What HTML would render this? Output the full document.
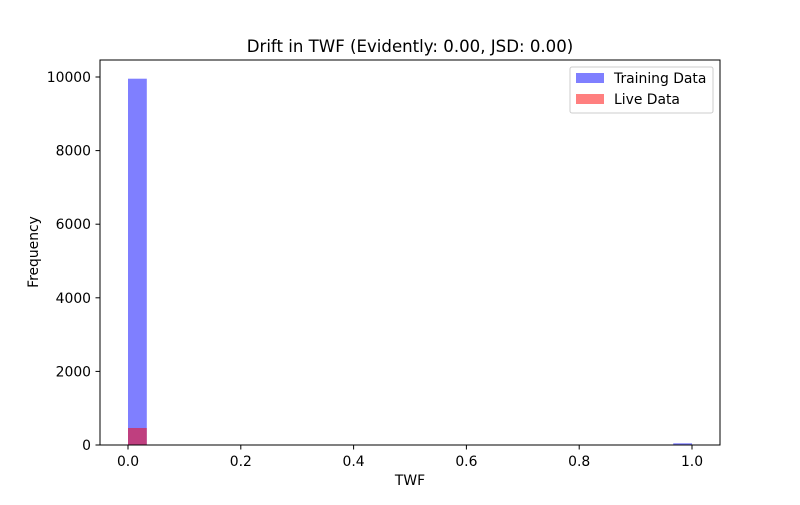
<!DOCTYPE html>
<html><head><meta charset="utf-8"><style>
body{margin:0;background:#fff;font-family:"Liberation Sans","DejaVu Sans",sans-serif}
</style></head><body>
<svg width="800" height="500" id="chart" style="font-family:'DejaVu Sans','Liberation Sans',sans-serif">
<rect width="800" height="500" fill="#fff"/>
<text x="410" y="52" font-size="16.6" text-anchor="middle">Drift in TWF (Evidently: 0.00, JSD: 0.00)</text>
<g id="bars"></g>
<rect x="100" y="60" width="620" height="385" fill="none" stroke="#000" stroke-width="1"/>
<g id="xt" font-size="13.9"></g><g id="yt" font-size="13.9"></g>
<text x="410" y="485" font-size="13.9" text-anchor="middle">TWF</text>
<text transform="translate(38,252) rotate(-90)" font-size="13.9" text-anchor="middle">Frequency</text>
<g>
<rect x="570" y="67" width="143" height="46" fill="#fff" stroke="#ccc" rx="2"/>
<rect x="576" y="73" width="28" height="10" fill="#0000ff" fill-opacity="0.5"/>
<text x="614" y="83" font-size="13.9">Training Data</text>
<rect x="576" y="94" width="28" height="10" fill="#ff0000" fill-opacity="0.5"/>
<text x="614" y="104" font-size="13.9">Live Data</text>
</g>
</svg>
<script>
const binStarts=[0,0.9667];
const trainingValues=[9954,46];
const liveBinStarts=[0];
const liveValues=[462];
const xTicks=[0,0.2,0.4,0.6,0.8,1.0];
const xTickLabels=["0.0","0.2","0.4","0.6","0.8","1.0"];
const yTicks=[0,2000,4000,6000,8000,10000];
const binWidth=1/30;
const X=v=>128+(v)*564;
const Y=v=>445-v*0.0368;
const ns="http://www.w3.org/2000/svg";
const bars=document.getElementById('bars');
function bar(x0,v,color,name){
 const r=document.createElementNS(ns,'rect');
 r.setAttribute('x',X(x0));r.setAttribute('width',X(x0+binWidth)-X(x0));
 r.setAttribute('y',Y(v));r.setAttribute('height',445-Y(v));
 r.setAttribute('fill',color);r.setAttribute('fill-opacity','0.5');
 
 
 bars.appendChild(r);
}
binStarts.forEach((b,i)=>bar(b,trainingValues[i],'#0000ff','training-bar'));
liveBinStarts.forEach((b,i)=>bar(b,liveValues[i],'#ff0000','live-bar'));
const xt=document.getElementById('xt');
xTicks.forEach((t,i)=>{
 const l=document.createElementNS(ns,'line');
 l.setAttribute('x1',X(t));l.setAttribute('x2',X(t));l.setAttribute('y1',445);l.setAttribute('y2',449.5);l.setAttribute('stroke','#000');
 
 
 xt.appendChild(l);
 const s=document.createElementNS(ns,'text');
 s.setAttribute('x',X(t));s.setAttribute('y',466);s.setAttribute('text-anchor','middle');s.textContent=xTickLabels[i];
 
 
 xt.appendChild(s);
});
const yt=document.getElementById('yt');
yTicks.forEach(t=>{
 const l=document.createElementNS(ns,'line');
 l.setAttribute('x1',95.5);l.setAttribute('x2',100);l.setAttribute('y1',Y(t));l.setAttribute('y2',Y(t));l.setAttribute('stroke','#000');
 
 
 yt.appendChild(l);
 const s=document.createElementNS(ns,'text');
 s.setAttribute('x',91);s.setAttribute('y',Y(t)+5);s.setAttribute('text-anchor','end');s.textContent=t;
 
 
 yt.appendChild(s);
});
</script>
</body></html>
